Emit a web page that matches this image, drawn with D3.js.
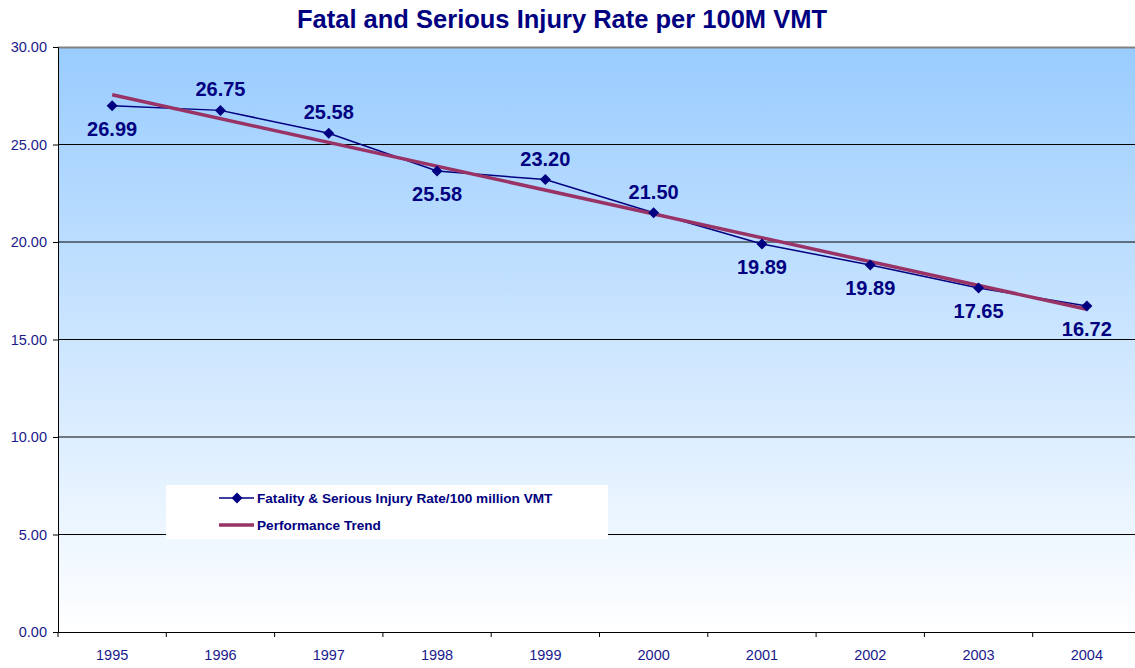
<!DOCTYPE html>
<html><head><meta charset="utf-8">
<script src="https://cdn.jsdelivr.net/npm/d3@7"></script>
<style>body{margin:0;background:#fff;} text{font-family:"Liberation Sans",Arial,sans-serif;}</style>
</head><body>
<svg id="c" width="1135" height="668"></svg>
<script>
const years = ["1995","1996","1997","1998","1999","2000","2001","2002","2003","2004"];
const rates = [26.99, 26.75, 25.58, 23.64, 23.20, 21.50, 19.90, 18.82, 17.64, 16.72];
const labelTexts = ["26.99","26.75","25.58","25.58","23.20","21.50","19.89","19.89","17.65","16.72"];
const labelSide = ["below","above","above","below","above","above","below","below","below","below"];
const trendEnds = [27.55, 16.55];
const yTicks = [0,5,10,15,20,25,30];
const legendNames = ["Fatality & Serious Injury Rate/100 million VMT","Performance Trend"];

const svg = d3.select("#c");
const L=58, R=1141, T=47, B=632;
const x = d3.scaleBand().domain(years).range([L,R]);
const y = d3.scaleLinear().domain([0,30]).range([B,T]);
const cx = d => x(d)+x.bandwidth()/2;

const defs = svg.append("defs");
const g = defs.append("linearGradient").attr("id","bg").attr("x1",0).attr("y1",0).attr("x2",0).attr("y2",1);
g.append("stop").attr("offset","0%").attr("stop-color","#99CCFF");
g.append("stop").attr("offset","100%").attr("stop-color","#FFFFFF");
svg.append("rect").attr("x",L).attr("y",T).attr("width",R-L).attr("height",B-T).attr("fill","url(#bg)");

// grid
svg.append("g").selectAll("line").data(yTicks.filter(v=>v>0&&v<30)).join("line")
  .attr("x1",L).attr("x2",R).attr("y1",d=>y(d)).attr("y2",d=>y(d)).attr("stroke","#000").attr("stroke-width",1);
svg.append("line").attr("x1",L).attr("x2",R).attr("y1",T+0.5).attr("y2",T+0.5).attr("stroke","#808080").attr("stroke-width",2);

// axes
const ya = svg.append("g").attr("transform",`translate(${L},0)`)
  .call(d3.axisLeft(y).tickValues(yTicks).tickFormat(d3.format(".2f")).tickSize(5).tickPadding(6));
ya.select(".domain").attr("stroke","#000");
ya.selectAll("text").style("font-size","14.5px").attr("fill","#1a1a8c").style("font-family","Liberation Sans, Arial");
const xa = svg.append("g").attr("transform",`translate(0,${B})`)
  .call(d3.axisBottom(x).tickSize(0).tickPadding(18));
xa.select(".domain").attr("stroke","#000");
xa.selectAll("text").style("font-size","14.5px").attr("fill","#1a1a8c").style("font-family","Liberation Sans, Arial");
svg.append("g").selectAll("line").data(years.slice(1)).join("line")
  .attr("x1",d=>x(d)).attr("x2",d=>x(d)).attr("y1",B).attr("y2",B+5).attr("stroke","#000");
svg.append("line").attr("x1",L).attr("x2",L).attr("y1",B).attr("y2",B+5).attr("stroke","#000");

// legend box
svg.append("rect").attr("x",166).attr("y",485).attr("width",442).attr("height",54).attr("fill","#fff");

// data line
const line = d3.line().x((d,i)=>cx(years[i])).y(d=>y(d));
svg.append("path").datum(rates).attr("d",line).attr("fill","none").attr("stroke","#000080").attr("stroke-width",1.5);
// trend
svg.append("line").attr("x1",cx(years[0])).attr("y1",y(trendEnds[0])).attr("x2",cx(years[9])).attr("y2",y(trendEnds[1]))
  .attr("stroke","#993366").attr("stroke-width",3.5);
// markers (square diamond)
const dia = "M0,-5.5L5.5,0L0,5.5L-5.5,0Z";
svg.append("g").selectAll("path").data(rates).join("path")
  .attr("d",dia).attr("transform",(d,i)=>`translate(${cx(years[i])},${y(d)})`).attr("fill","#000080");
// labels
svg.append("g").selectAll("text").data(rates).join("text")
  .attr("x",(d,i)=>cx(years[i])).attr("y",(d,i)=>y(d)+(labelSide[i]==="above"?-14:30))
  .attr("text-anchor","middle").style("font-size","20px").attr("font-weight","bold").attr("fill","#000080")
  .text((d,i)=>labelTexts[i]);

// legend entries
const lg = svg.append("g");
lg.append("line").attr("x1",219).attr("x2",254).attr("y1",498).attr("y2",498).attr("stroke","#000080").attr("stroke-width",1.5);
lg.append("path").attr("d",dia).attr("transform","translate(237,498)").attr("fill","#000080");
lg.append("line").attr("x1",219).attr("x2",254).attr("y1",525).attr("y2",525).attr("stroke","#993366").attr("stroke-width",3.5);
lg.selectAll("text").data(legendNames).join("text").attr("x",257).attr("y",(d,i)=>503+i*27)
  .style("font-size","13.6px").attr("font-weight","bold").attr("fill","#000080").text(d=>d);

// title
svg.append("text").attr("x",562).attr("y",28).attr("text-anchor","middle").style("font-size","25.5px").attr("font-weight","bold")
  .attr("fill","#000080").text("Fatal and Serious Injury Rate per 100M VMT");
</script>
</body></html>
